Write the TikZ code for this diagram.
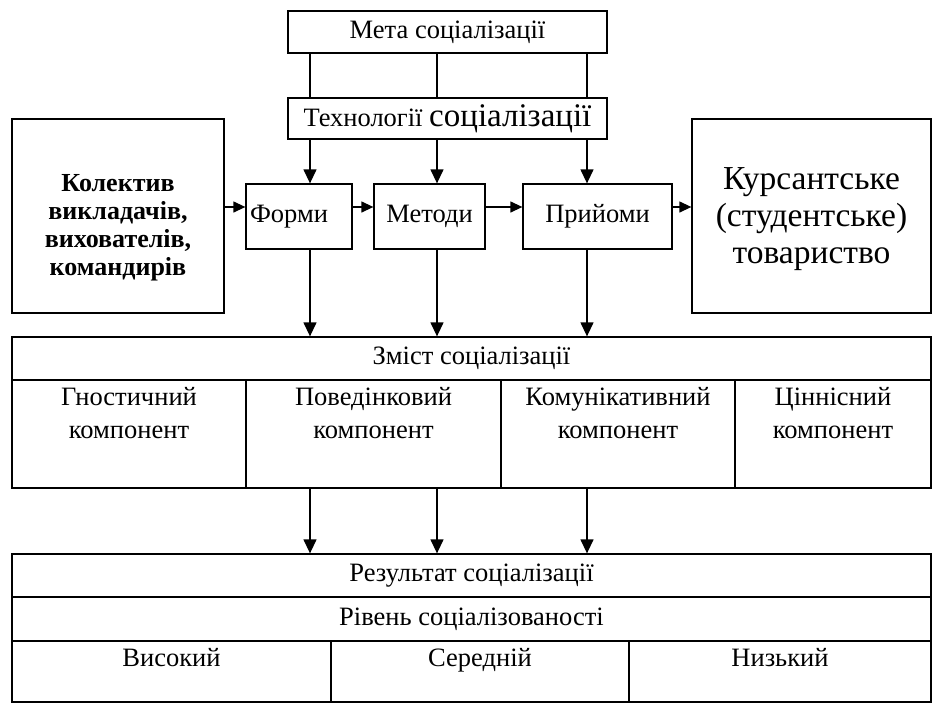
\documentclass[tikz,border=0pt]{standalone}
\usepackage{fontspec}
\setmainfont{Liberation Serif}
\usetikzlibrary{arrows.meta,positioning}
\tikzset{
  box/.style={draw, line width=1.3pt, inner sep=0pt, align=center,
    font=\fontsize{26.5}{33}\selectfont},
  celltext/.style={inner sep=0pt, anchor=north, align=center,
    font=\fontsize{26.5}{33}\selectfont},
  link/.style={line width=1.3pt},
  arr/.style={link, -{Triangle[length=14pt,width=13pt]}},
  harr/.style={link, -{Triangle[length=12pt,width=11pt]}},
}
\begin{document}
\begin{tikzpicture}[x=1pt,y=-1pt]
\useasboundingbox (0,0) rectangle (943,704);
    \node (meta) at (447.5,32) [box, minimum width=319pt, minimum height=42pt] {Мета соціалізації};
    \node (tech) at (447.5,118.5) [box, minimum width=319pt, minimum height=41pt]
      {Технології {\fontsize{33}{33}\selectfont соціалізації}};
    \node (kol) at (118,216) [box, minimum width=212pt, minimum height=194pt] {};
    \node (kolt) at ([yshift=-12pt]kol.center) [celltext, anchor=center,
      font=\bfseries\fontsize{26}{28}\selectfont] {Колектив\\викладачів,\\вихователів,\\командирів};
    \node (formy) at (299,216.5) [box, minimum height=65pt, inner xsep=4pt, text width=98pt, align=left] {Форми};
    \node (metody) at (429.5,216.5) [box, minimum width=111pt, minimum height=65pt] {Методи};
    \node (pryiomy) at (597.5,216.5) [box, minimum width=149pt, minimum height=65pt] {Прийоми};
    \node (kurs) at (811.5,216) [box, minimum width=239pt, minimum height=194pt] {};
    \node (kurst) at ([yshift=-3pt]kurs.center) [celltext, anchor=center,
      font=\fontsize{33.5}{37}\selectfont] {Курсантське\\(студентське)\\товариство};
    \node (zmist) at (471.5,358.5) [box, minimum width=919pt, minimum height=43pt] {Зміст соціалізації};
    \node (gno) at (129,434) [box, minimum width=234pt, minimum height=108pt] {};
    \node (pov) at (373.5,434) [box, minimum width=255pt, minimum height=108pt] {};
    \node (kom) at (618,434) [box, minimum width=234pt, minimum height=108pt] {};
    \node (cin) at (833,434) [box, minimum width=196pt, minimum height=108pt] {};
    \node (gnot) at ([yshift=-8pt]gno.north) [celltext] {Гностичний\\компонент};
    \node (povt) at ([yshift=-8pt]pov.north) [celltext] {Поведінковий\\компонент};
    \node (komt) at ([yshift=-8pt]kom.north) [celltext] {Комунікативний\\компонент};
    \node (cint) at ([yshift=-8pt]cin.north) [celltext] {Ціннісний\\компонент};
    \node (rez) at (471.5,575.5) [box, minimum width=919pt, minimum height=43pt] {Результат соціалізації};
    \node (riv) at (471.5,619) [box, minimum width=919pt, minimum height=44pt] {Рівень соціалізованості};
    \node (vys) at (171.5,671.5) [box, minimum width=319pt, minimum height=61pt] {};
    \node (ser) at (480,671.5) [box, minimum width=298pt, minimum height=61pt] {};
    \node (nyz) at (780,671.5) [box, minimum width=302pt, minimum height=61pt] {};
    \node (vyst) at ([yshift=-8pt]vys.north) [celltext] {Високий};
    \node (sert) at ([yshift=-8pt]ser.north) [celltext] {Середній};
    \node (nyzt) at ([yshift=-8pt]nyz.north) [celltext] {Низький};
    \coordinate (xa) at (310,0);
    \coordinate (xb) at (437,0);
    \coordinate (xc) at (587,0);
    \coordinate (yh) at (0,207);
    \draw[link] (meta.south -| xa) -- (tech.north -| xa);
    \draw[link] (meta.south -| xb) -- (tech.north -| xb);
    \draw[link] (meta.south -| xc) -- (tech.north -| xc);
    \draw[arr] (tech.south -| xa) -- (formy.north -| xa);
    \draw[arr] (tech.south -| xb) -- (metody.north -| xb);
    \draw[arr] (tech.south -| xc) -- (pryiomy.north -| xc);
\draw[harr] (kol.east |- yh) -- (formy.west |- yh);
\draw[harr] (formy.east |- yh) -- (metody.west |- yh);
\draw[harr] (metody.east |- yh) -- (pryiomy.west |- yh);
\draw[harr] (pryiomy.east |- yh) -- (kurs.west |- yh);
\draw[arr] (formy.south -| xa) -- (zmist.north -| xa);
\draw[arr] (metody.south -| xb) -- (zmist.north -| xb);
\draw[arr] (pryiomy.south -| xc) -- (zmist.north -| xc);
\draw[arr] (pov.south -| xa) -- (rez.north -| xa);
\draw[arr] (pov.south -| xb) -- (rez.north -| xb);
\draw[arr] (kom.south -| xc) -- (rez.north -| xc);
\end{tikzpicture}
\end{document}
